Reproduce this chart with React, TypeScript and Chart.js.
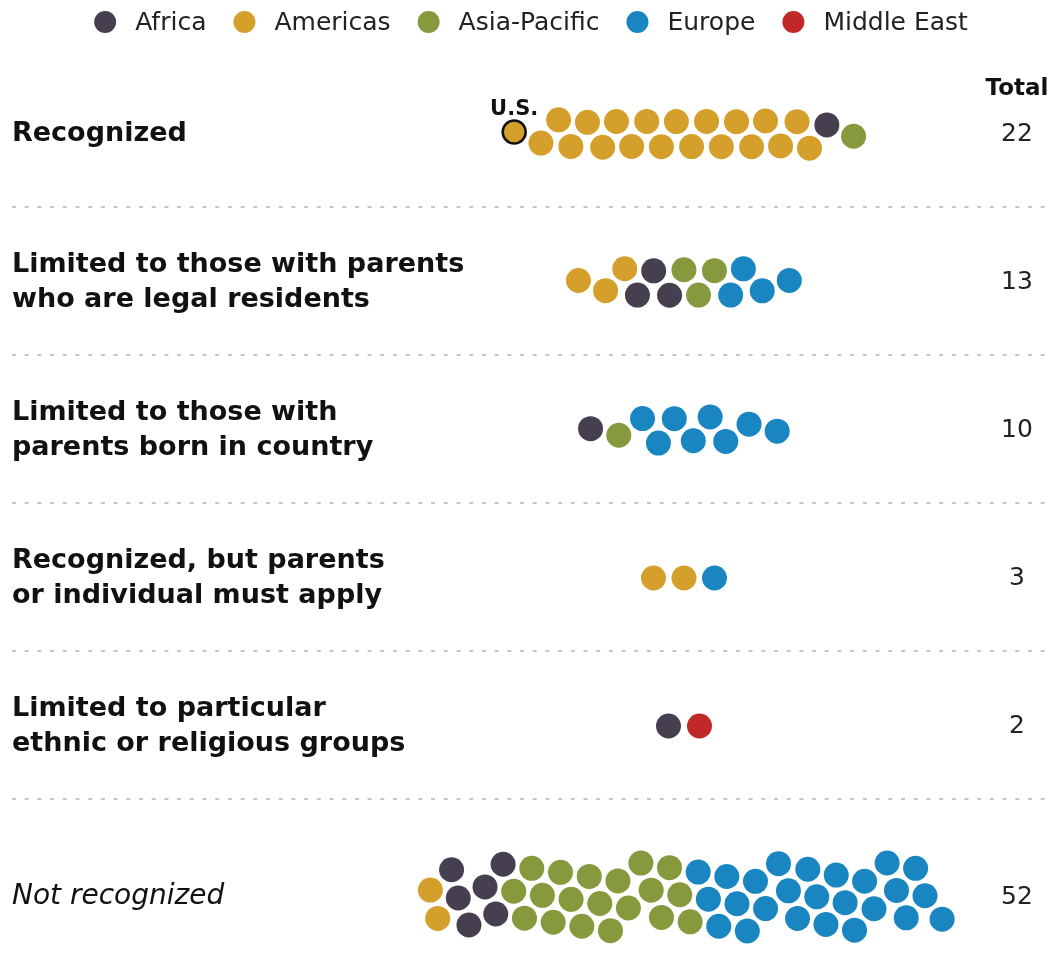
import { useEffect, useRef } from 'react';
import { Chart, registerables } from 'chart.js';

Chart.register(...registerables);

// ---------------- data ----------------
const REGIONS = ['Africa', 'Americas', 'Asia-Pacific', 'Europe', 'Middle East'];
const CATEGORIES: string[][] = [
  ['Recognized'],
  ['Limited to those with parents', 'who are legal residents'],
  ['Limited to those with', 'parents born in country'],
  ['Recognized, but parents', 'or individual must apply'],
  ['Limited to particular', 'ethnic or religious groups'],
  ['Not recognized'],
];
// number of countries per category, by region
const AFRICA = [1, 3, 1, 0, 1, 6];
const AMERICAS = [20, 3, 0, 2, 0, 2];
const ASIA_PACIFIC = [1, 3, 1, 0, 0, 19];
const EUROPE = [0, 4, 8, 1, 0, 25];
const MIDDLE_EAST = [0, 0, 0, 0, 1, 0];
// order in which the regions are laid out inside each swarm
const SWARM_ORDER = ['Americas', 'Africa', 'Asia-Pacific', 'Europe', 'Middle East'];
const HIGHLIGHT_LABEL = 'U.S.';
const HIGHLIGHT_CATEGORY = 0;
const HIGHLIGHT_REGION = 'Americas';
const TOTAL_HEADER = 'Total';

// ---------------- styles / layout ----------------
const COLORS: Record<string, string> = {
  Africa: '#463f4f',
  Americas: '#d4a02b',
  'Asia-Pacific': '#86993c',
  Europe: '#1a86c1',
  'Middle East': '#c0282a',
};
const W = 1059;
const H = 954;
const CENTER_X = 684;
const ROW_TOP = 134;
const ROW_GAP = 148;
const LAST_EXTRA = 23;
const ROW_STEP = [15, 15.5, 18, 30.5, 31, 9.8];
const ROW_KX = [0.03, 0.03, 0.03, 0.03, 0.03, 0.05];
const ROW_KY = [0.07, 0.07, 0.07, 0.07, 0.07, 0.025];
const DOT_R = 12.5;
const MIN_DIST = 29;
const FONT = "'DejaVu Sans', 'Liberation Sans', sans-serif";

const COUNTS: Record<string, number[]> = {
  Africa: AFRICA,
  Americas: AMERICAS,
  'Asia-Pacific': ASIA_PACIFIC,
  Europe: EUROPE,
  'Middle East': MIDDLE_EAST,
};

const rowY = (k: number) => ROW_TOP + ROW_GAP * k + (k === CATEGORIES.length - 1 ? LAST_EXTRA : 0);

type P = { tx: number; x: number; y: number };

// beeswarm layout: dodge placement followed by a relaxation toward the targets
function swarm(n: number, step: number, kx: number, ky: number): P[] {
  const D = MIN_DIST;
  const pts: P[] = [];
  for (let i = 0; i < n; i++) {
    const tx = (i - (n - 1) / 2) * step;
    const cands = [0];
    for (const q of pts) {
      const dx = Math.abs(q.x - tx);
      if (dx < D) {
        const h = Math.sqrt(D * D - dx * dx);
        cands.push(q.y + h, q.y - h);
      }
    }
    cands.sort((a, b) => Math.abs(a) - Math.abs(b) || b - a);
    let y = 0;
    for (const c of cands) {
      if (pts.every((q) => Math.hypot(q.x - tx, q.y - c) >= D - 1e-6)) {
        y = c;
        break;
      }
    }
    pts.push({ tx, x: tx, y });
  }
  for (let it = 0; it < 1000; it++) {
    for (const p of pts) {
      p.x += (p.tx - p.x) * kx;
      p.y += -p.y * ky;
    }
    for (let pass = 0; pass < 4; pass++) {
      for (let i = 0; i < n; i++) {
        for (let j = i + 1; j < n; j++) {
          const a = pts[i];
          const b = pts[j];
          let dx = b.x - a.x;
          let dy = b.y - a.y;
          let d = Math.hypot(dx, dy);
          if (d < D) {
            if (d < 1e-6) {
              dx = 1;
              dy = 0;
              d = 1;
            }
            const m = (D - d) / d / 2;
            a.x -= dx * m;
            a.y -= dy * m;
            b.x += dx * m;
            b.y += dy * m;
          }
        }
      }
    }
  }
  const minY = Math.min(...pts.map((p) => p.y));
  const maxY = Math.max(...pts.map((p) => p.y));
  const midY = (minY + maxY) / 2;
  pts.forEach((p) => (p.y -= midY));
  return pts;
}

function buildData() {
  const byRegion: Record<string, { x: number; y: number }[]> = {};
  REGIONS.forEach((r) => (byRegion[r] = []));
  const highlight: { x: number; y: number }[] = [];
  const totals: number[] = [];
  CATEGORIES.forEach((_, k) => {
    const seq: string[] = [];
    SWARM_ORDER.forEach((r) => {
      for (let c = 0; c < COUNTS[r][k]; c++) seq.push(r);
    });
    totals.push(seq.length);
    const pts = swarm(seq.length, ROW_STEP[k], ROW_KX[k], ROW_KY[k]);
    let highlighted = false;
    seq.forEach((r, i) => {
      const pt = { x: CENTER_X + pts[i].x, y: rowY(k) + pts[i].y };
      if (!highlighted && k === HIGHLIGHT_CATEGORY && r === HIGHLIGHT_REGION) {
        highlighted = true;
        highlight.push(pt);
      } else {
        byRegion[r].push(pt);
      }
    });
  });
  return { byRegion, highlight, totals };
}

export default function App() {
  const ref = useRef<HTMLCanvasElement | null>(null);

  useEffect(() => {
    if (!ref.current) return;
    const { byRegion, highlight, totals } = buildData();

    const datasets: any[] = REGIONS.map((r) => ({
      label: r,
      data: byRegion[r],
      backgroundColor: COLORS[r],
      borderWidth: 0,
      pointRadius: DOT_R,
      pointHoverRadius: DOT_R,
      clip: false,
    }));
    datasets.push({
      label: HIGHLIGHT_LABEL,
      data: highlight,
      backgroundColor: COLORS[HIGHLIGHT_REGION],
      borderColor: '#111111',
      borderWidth: 2.5,
      pointRadius: DOT_R - 1,
      pointHoverRadius: DOT_R - 1,
      clip: false,
    });

    const decor = {
      id: 'decor',
      beforeDatasetsDraw(chart: any) {
        const ctx = chart.ctx;
        const ys = chart.scales.y;
        const xs = chart.scales.x;
        ctx.save();
        ctx.strokeStyle = '#c6c6c6';
        ctx.lineWidth = 2;
        ctx.setLineDash([4, 8.7]);
        for (let k = 0; k < CATEGORIES.length - 1; k++) {
          const y = ys.getPixelForValue(rowY(k) + 73);
          ctx.beginPath();
          ctx.moveTo(xs.getPixelForValue(12), y);
          ctx.lineTo(xs.getPixelForValue(1050), y);
          ctx.stroke();
        }
        ctx.restore();
      },
      afterDatasetsDraw(chart: any) {
        const ctx = chart.ctx;
        const ys = chart.scales.y;
        const xs = chart.scales.x;
        ctx.save();
        // legend
        ctx.font = `25px ${FONT}`;
        ctx.textBaseline = 'middle';
        ctx.textAlign = 'left';
        const legR = 11;
        const gapText = 19;
        const gapItem = 27;
        const widths = REGIONS.map((r) => ctx.measureText(r).width);
        const total =
          widths.reduce((a, b) => a + b, 0) + REGIONS.length * (2 * legR + gapText) + (REGIONS.length - 1) * gapItem;
        let lx = 531 - total / 2;
        const ly = 22;
        REGIONS.forEach((r, i) => {
          ctx.fillStyle = COLORS[r];
          ctx.beginPath();
          ctx.arc(lx + legR, ly, legR, 0, Math.PI * 2);
          ctx.fill();
          ctx.fillStyle = '#222222';
          ctx.fillText(r, lx + 2 * legR + gapText, ly + 1);
          lx += 2 * legR + gapText + widths[i] + gapItem;
        });

        // category labels
        ctx.fillStyle = '#111111';
        CATEGORIES.forEach((lines, k) => {
          const last = k === CATEGORIES.length - 1;
          ctx.font = last ? `italic 28px ${FONT}` : `bold 27px ${FONT}`;
          const cy = ys.getPixelForValue(rowY(k));
          lines.forEach((t, j) => {
            ctx.fillText(t, xs.getPixelForValue(12), cy + (j - (lines.length - 1) / 2) * 35);
          });
        });

        // totals
        ctx.textAlign = 'center';
        ctx.font = `bold 23px ${FONT}`;
        ctx.fillText(TOTAL_HEADER, xs.getPixelForValue(1017), ys.getPixelForValue(89));
        ctx.font = `25px ${FONT}`;
        ctx.fillStyle = '#222222';
        totals.forEach((t, k) => {
          ctx.fillText(String(t), xs.getPixelForValue(1017), ys.getPixelForValue(rowY(k)));
        });

        // highlight label
        const meta = chart.getDatasetMeta(REGIONS.length);
        if (meta && meta.data[0]) {
          const el = meta.data[0];
          ctx.font = `bold 21px ${FONT}`;
          ctx.fillStyle = '#111111';
          ctx.textBaseline = 'alphabetic';
          ctx.fillText(HIGHLIGHT_LABEL, el.x, el.y - 17);
        }
        ctx.restore();
      },
    };

    const chart = new Chart(ref.current, {
      type: 'scatter',
      data: { datasets },
      options: {
        responsive: false,
        animation: false,
        events: [],
        layout: { padding: 0 },
        plugins: {
          legend: { display: false },
          tooltip: { enabled: false },
        },
        scales: {
          x: { type: 'linear', min: 0, max: W, display: false },
          y: { type: 'linear', min: 0, max: H, reverse: true, display: false },
        },
      },
      plugins: [decor],
    });
    // make one scale unit equal one canvas pixel, whatever padding the layout added
    const ca = chart.chartArea;
    const sc: any = chart.options.scales;
    sc.x.min = ca.left;
    sc.x.max = ca.right;
    sc.y.min = ca.top;
    sc.y.max = ca.bottom;
    chart.update();
    return () => chart.destroy();
  }, []);

  return (
    <div style={{ position: 'fixed', left: 0, top: 0, width: W, height: H, background: '#ffffff' }}>
      <canvas ref={ref} width={W} height={H} style={{ display: 'block' }} />
    </div>
  );
}
